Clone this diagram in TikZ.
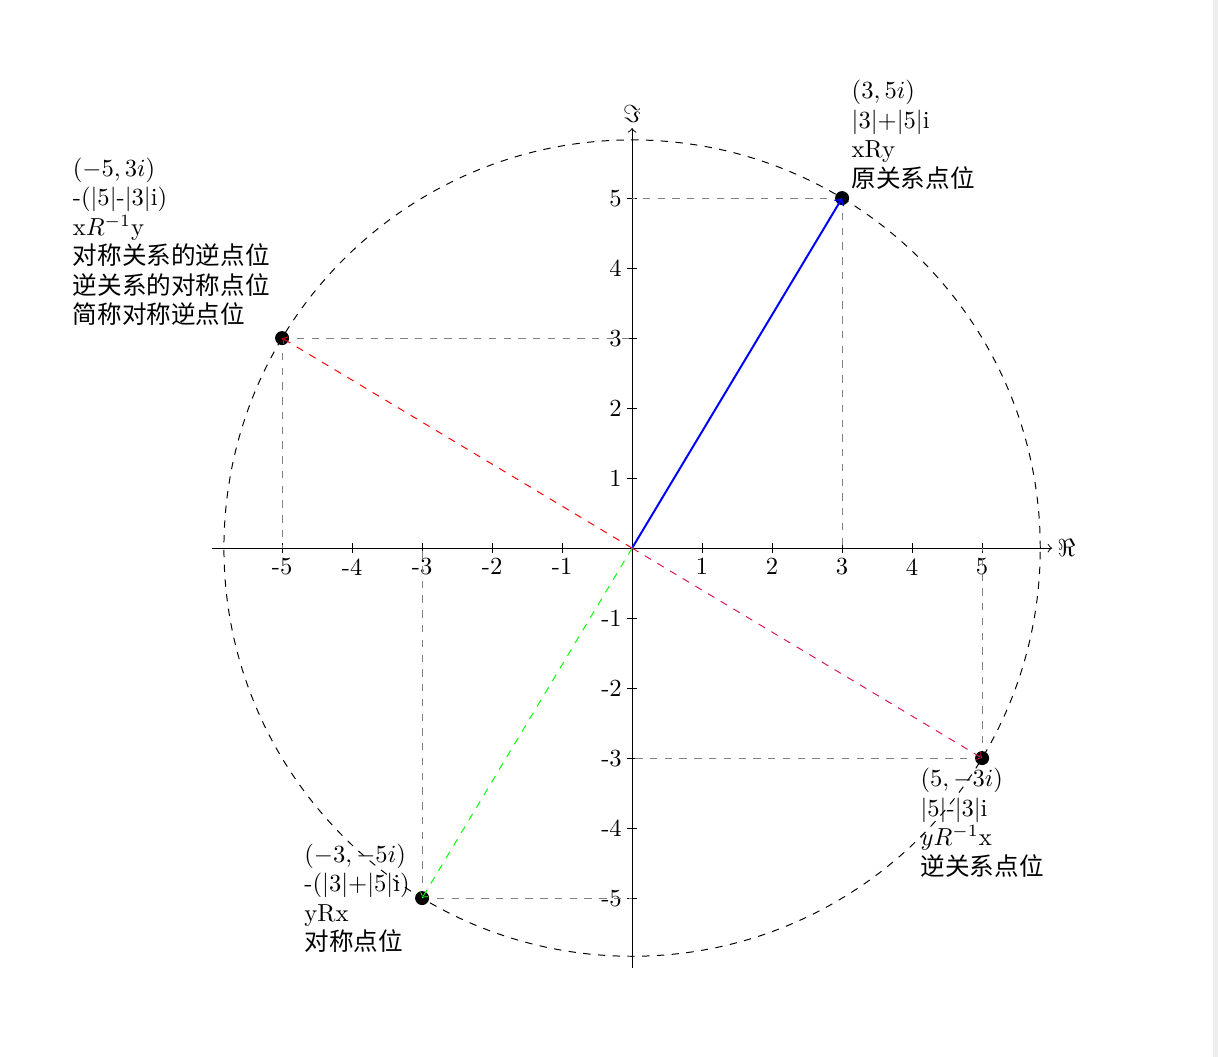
\documentclass[tikz,border=0pt]{standalone}
\usepackage{fontspec}
\newfontfamily\cjk{Noto Sans CJK SC}
\usetikzlibrary{arrows}
\definecolor{crim}{RGB}{220,20,90}
\definecolor{pagegray}{RGB}{238,238,238}
\begin{document}
\begin{tikzpicture}[x=1cm,y=1cm,
  helper/.style={gray,dashed},
  dotpt/.style={circle,fill=black,inner sep=0pt,minimum size=0.2cm},
  lbl/.style={align=left,inner sep=2pt},
  ticklbl/.style={inner sep=2pt}]
\useasboundingbox (-9.03,-7.27) rectangle (8.37,7.83);
\fill[pagegray] (8.30,-7.27) rectangle (8.37,7.83);
% axes
\coordinate (xmin) at (-6,0);
\coordinate (xmax) at (6,0);
\coordinate (ymin) at (0,-6);
\coordinate (ymax) at (0,6);
\coordinate (O) at (0,0);
\draw[->] (xmin) -- (xmax) node[right,inner sep=2pt] (re) {$\Re$};
\draw[->] (ymin) -- (ymax) node[above,inner sep=2pt] (im) {$\Im$};
\foreach \i in {-5,-4,-3,-2,-1,1,2,3,4,5}{
  \draw (\i,0.07) -- (\i,-0.07) node[below,ticklbl] (xt\i) {\i};
  \draw (0.07,\i) -- (-0.07,\i) node[left,ticklbl] (yt\i) {\i};
}
% circle
\draw[dashed] (O) circle ({sqrt(34)});
% points
\coordinate (A) at (3,5);
\coordinate (B) at (-5,3);
\coordinate (C) at (5,-3);
\coordinate (D) at (-3,-5);
% helper lines
\draw[helper] (A) -- (0,5);
\draw[helper] (A) -- (3,0);
\draw[helper] (B) -- (0,3);
\draw[helper] (B) -- (-5,0);
\draw[helper] (C) -- (0,-3);
\draw[helper] (C) -- (5,0);
\draw[helper] (D) -- (0,-5);
\draw[helper] (D) -- (-3,0);
% dots
\node[dotpt] (pA) at (A) {};
\node[dotpt] (pB) at (B) {};
\node[dotpt] (pC) at (C) {};
\node[dotpt] (pD) at (D) {};
% vectors
\draw[->,blue,line width=0.8pt] (O) -- (A);
\draw[->,red,dashed] (O) -- (B);
\draw[->,crim,dashed] (O) -- (C);
\draw[->,green,dashed] (O) -- (D);
% labels
\node[lbl,anchor=south west] (lA) at (3.06,5.05) {$(3,5i)$\\|3|+|5|i\\xRy\\{\cjk 原关系点位}};
\node[lbl,anchor=south east] (lB) at (-5.1,3.1) {$(-5,3i)$\\-(|5|-|3|i)\\x$R^{-1}$y\\{\cjk 对称关系的逆点位}\\{\cjk 逆关系的对称点位}\\{\cjk 简称对称逆点位}};
\node[lbl,anchor=north] (lC) at (5,-3.07) {$(5,-3i)$\\|5|-|3|i\\$yR^{-1}$x\\{\cjk 逆关系点位}};
\node[lbl,anchor=east] (lD) at (-3.1,-5) {$(-3,-5i)$\\-(|3|+|5|i)\\yRx\\{\cjk 对称点位}};
\end{tikzpicture}
\end{document}
